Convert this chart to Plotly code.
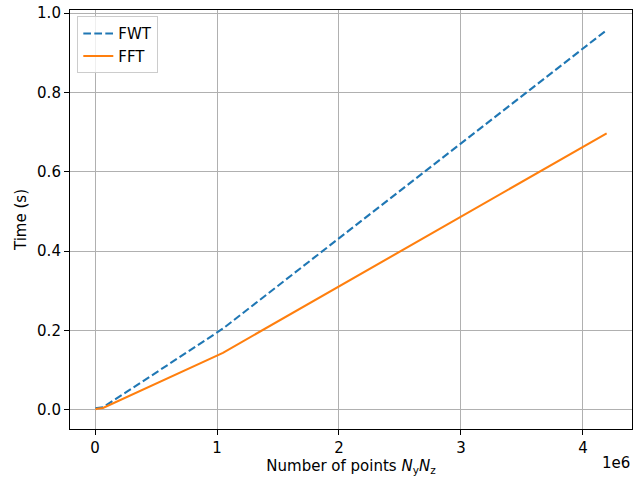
import plotly.graph_objects as go

n_points = [4096, 16384, 65536, 262144, 1048576, 4194304]
fwt_time = [0.005, 0.005, 0.007, 0.046, 0.205, 0.957]
fft_time = [0.002, 0.003, 0.005, 0.033, 0.144, 0.697]

x_tick_vals = [0, 1e6, 2e6, 3e6, 4e6]
x_tick_text = ["0", "1", "2", "3", "4"]
y_tick_vals = [0.0, 0.2, 0.4, 0.6, 0.8, 1.0]
y_tick_text = ["0.0", "0.2", "0.4", "0.6", "0.8", "1.0"]

font = "DejaVu Sans, sans-serif"
fs = 15

fig = go.Figure()
fig.add_trace(go.Scatter(x=n_points, y=fwt_time, mode="lines", name="FWT",
                         line=dict(color="#1f77b4", width=2.08, dash="7.7px,3.3px")))
fig.add_trace(go.Scatter(x=n_points, y=fft_time, mode="lines", name="FFT",
                         line=dict(color="#ff7f0e", width=2.08)))

xmin, xmax = -0.205e6, 4.402e6
fig.update_layout(
    width=633, height=479,
    margin=dict(l=70, r=1, t=10, b=50, autoexpand=False),
    paper_bgcolor="white", plot_bgcolor="white",
    font=dict(family=font, size=fs, color="black"),
    showlegend=True,
    legend=dict(x=0.013, y=0.985, xanchor="left", yanchor="top",
                bgcolor="rgba(255,255,255,0.8)", bordercolor="#cccccc", borderwidth=1,
                font=dict(size=fs), tracegroupgap=0, itemwidth=30),
    xaxis=dict(range=[xmin, xmax], tickvals=x_tick_vals, ticktext=x_tick_text,
               automargin=False,
               showline=True, linecolor="black", linewidth=1.1, mirror=True,
               ticks="outside", ticklen=5, tickwidth=1.1, tickcolor="black",
               showgrid=True, gridcolor="#b0b0b0", gridwidth=1.1, zeroline=False,
               title=dict(text="Number of points <i>N</i><sub>y</sub><i>N</i><sub>z</sub>",
                          font=dict(size=fs), standoff=1)),
    yaxis=dict(range=[-0.0479, 1.0076], tickvals=y_tick_vals, ticktext=y_tick_text,
               automargin=False,
               showline=True, linecolor="black", linewidth=1.1, mirror=True,
               ticks="outside", ticklen=5, tickwidth=1.1, tickcolor="black",
               showgrid=True, gridcolor="#b0b0b0", gridwidth=1.1, zeroline=False,
               title=dict(text="Time (s)", font=dict(size=fs), standoff=6)),
)
fig.add_annotation(text="1e6", xref="paper", yref="paper", x=1.0, y=-0.055,
                   xanchor="right", yanchor="top", showarrow=False, font=dict(size=fs))

fig.write_html("out.html", config={"displayModeBar": False},
               post_script="document.body.style.margin='0';document.body.style.padding='0';")
